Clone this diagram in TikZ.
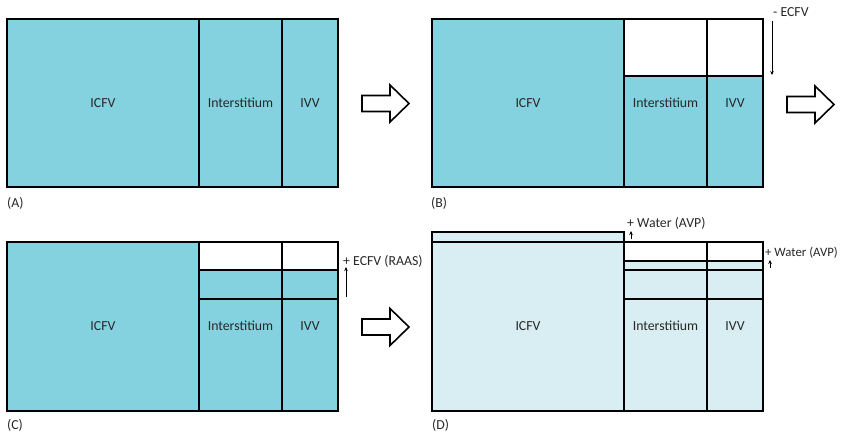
\documentclass[tikz,border=0pt]{standalone}
\usepackage{fontspec}
\setmainfont{Carlito}
\usetikzlibrary{arrows.meta}
\definecolor{fluid}{RGB}{132,210,224}
\definecolor{fluidlight}{RGB}{216,238,242}
\definecolor{txt}{RGB}{40,40,40}

\begin{document}
\begin{tikzpicture}[x=1pt, y=-1pt,
    every node/.style={font=\fontsize{13.8}{16}\selectfont, text=txt, inner sep=0pt},
    box/.style={draw=black, line width=2pt},
    bigarrow/.style={draw=black, line width=1.6pt, fill=white, line join=miter},
    volshift/.style={-{Stealth[length=4pt, width=3.5pt]}, line width=0.8pt}]
\useasboundingbox (0,0) rectangle (842,437);

% (A) starting volumes
\draw[box, fill=fluid] (7,19) rectangle (338,187);
\draw[box] (199,19) -- (199,187) (282,19) -- (282,187);
\node (icfvA) at (103,103) {ICFV};
\node (intA) at (240.5,103) {Interstitium};
\node (ivvA) at (310,103) {IVV};
\node[anchor=west] (labA) at (7,203) {(A)};

% (B) loss of ECFV
\fill[fluid] (432,19) rectangle (624,187);
\fill[fluid] (624,76) rectangle (763,187);
\draw[box] (432,19) rectangle (763,187);
\draw[box] (624,19) -- (624,187) (707,19) -- (707,187) (624,76) -- (763,76);
\node (icfvB) at (528,103) {ICFV};
\node (intB) at (665.5,103) {Interstitium};
\node (ivvB) at (735,103) {IVV};
\node[anchor=west] (labB) at (431,203) {(B)};
\coordinate (b1) at (772,21);
\coordinate (b2) at (772,75);
\draw[volshift] (b1) -- (b2);
\node[anchor=west] (ecfvB) at (773,12) {- ECFV};

% (C) ECFV restored by RAAS
\fill[fluid] (7,242) rectangle (199,411);
\fill[fluid] (199,270) rectangle (338,411);
\draw[box] (7,242) rectangle (338,411);
\draw[box] (199,242) -- (199,411) (282,242) -- (282,411);
\draw[box] (199,270) -- (338,270) (199,299) -- (338,299);
\node (icfvC) at (103,326) {ICFV};
\node (intC) at (240.5,326) {Interstitium};
\node (ivvC) at (310,326) {IVV};
\node[anchor=west] (labC) at (7,425) {(C)};
\coordinate (c1) at (346,297);
\coordinate (c2) at (346,267);
\draw[volshift] (c1) -- (c2);
\node[anchor=west] (ecfvC) at (343,261) {+ ECFV (RAAS)};

% (D) water retained by AVP
\fill[fluidlight] (432,232) rectangle (624,411);
\fill[fluidlight] (624,261) rectangle (763,411);
\draw[box] (432,232) rectangle (624,411);
\draw[box] (432,242) -- (624,242);
\draw[box] (624,242) rectangle (763,411);
\draw[box] (707,242) -- (707,411);
\draw[box] (624,261) -- (763,261) (624,270) -- (763,270) (624,299) -- (763,299);
\node (icfvD) at (528,326) {ICFV};
\node (intD) at (665.5,326) {Interstitium};
\node (ivvD) at (735,326) {IVV};
\node[anchor=west] (labD) at (432,425) {(D)};
\coordinate (d1) at (631,239);
\coordinate (d2) at (631,231);
\draw[volshift] (d1) -- (d2);
\node[anchor=west] (waterD1) at (627,223) {+ Water (AVP)};
\coordinate (d3) at (770,268);
\coordinate (d4) at (770,260);
\draw[volshift] (d3) -- (d4);
\node[anchor=west, font=\fontsize{12.8}{15}\selectfont] (waterD2) at (765,253) {+ Water (AVP)};

% block arrows between panels
\foreach \cx/\cy in {362/103.5, 787/104.5, 362/327}
  \draw[bigarrow] (\cx,{\cy-8}) -- ++(28,0) -- ++(0,-10.5) -- ++(19,18.5)
    -- ++(-19,18.5) -- ++(0,-10.5) -- ++(-28,0) -- cycle;
\end{tikzpicture}
\end{document}
